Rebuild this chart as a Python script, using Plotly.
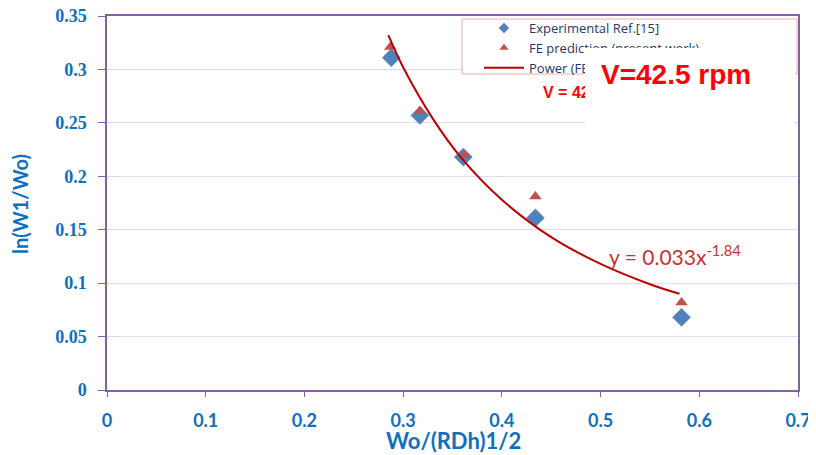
import plotly.graph_objects as go

# Data
exp_x = [0.288, 0.317, 0.361, 0.434, 0.582]
exp_y = [0.311, 0.257, 0.218, 0.161, 0.068]

fe_x = [0.287, 0.317, 0.362, 0.434, 0.582]
fe_y = [0.321, 0.261, 0.220, 0.181, 0.082]

# Power trendline (y = 0.033x^-1.84)
fit_x = [0.285, 0.30, 0.33, 0.36, 0.40, 0.45, 0.50, 0.55, 0.58]
fit_y = [0.332, 0.302, 0.254, 0.216, 0.178, 0.143, 0.118, 0.099, 0.090]

x_ticks = [0, 0.1, 0.2, 0.3, 0.4, 0.5, 0.6, 0.7]
x_tick_text = ["0", "0.1", "0.2", "0.3", "0.4", "0.5", "0.6", "0.7"]
y_ticks = [0, 0.05, 0.1, 0.15, 0.2, 0.25, 0.3, 0.35]
y_tick_text = ["0", "0.05", "0.1", "0.15", "0.2", "0.25", "0.3", "0.35"]

names = ["Experimental Ref.[15]", "FE prediction (present work)",
         "Power (FE prediction (present work))"]

PURPLE = "#8064A2"
GRID = "#E4DAF0"
LABEL = "#0E70BE"
BLUE = "#4F81BD"
RED = "#C0504D"
FIT = "#C00000"

fig = go.Figure()
fig.add_trace(go.Scatter(
    x=exp_x, y=exp_y, mode="markers", name=names[0], showlegend=False,
    marker=dict(symbol="diamond", size=14, color=BLUE,
                line=dict(color="#6A96CC", width=0.5))))
fig.add_trace(go.Scatter(
    x=fe_x, y=fe_y, mode="markers", name=names[1], showlegend=False,
    marker=dict(symbol="triangle-up", size=11, color=RED)))
fig.add_trace(go.Scatter(
    x=fit_x, y=fit_y, mode="lines", name=names[2], showlegend=False,
    line=dict(color=FIT, width=2, shape="spline")))

# legend entries (small symbols as in the reference legend)
fig.add_trace(go.Scatter(x=[None], y=[None], mode="markers", name=names[0],
                         marker=dict(symbol="diamond", size=8, color=BLUE)))
fig.add_trace(go.Scatter(x=[None], y=[None], mode="markers", name=names[1],
                         marker=dict(symbol="triangle-up", size=8, color=RED)))
fig.add_trace(go.Scatter(x=[None], y=[None], mode="lines", name=names[2],
                         line=dict(color=FIT, width=2)))

# page body has an 8px margin
OFF = 8
W, H = 816 - OFF, 455 - OFF
L, T = 107 - OFF, 16 - OFF
R = W - (798 - OFF)
B = H - (390 - OFF)
pw, ph = W - L - R, H - T - B


def px(xr):
    return (xr - OFF - L) / pw


def py(yr):
    return (H - B - (yr - OFF)) / ph


fig.update_layout(
    width=W, height=H,
    margin=dict(l=L, r=R, t=T, b=B, autoexpand=False),
    paper_bgcolor="white", plot_bgcolor="white",
    showlegend=True,
    legend=dict(x=px(479), y=py(13), xanchor="left", yanchor="top",
                bgcolor="rgba(0,0,0,0)", borderwidth=0,
                font=dict(family="Open Sans", size=13, color="#1F3864"),
                itemwidth=40, tracegroupgap=0),
    xaxis=dict(range=[0, 0.7], tickvals=x_ticks, ticktext=x_tick_text,
               showgrid=False, zeroline=False,
               showline=True, linecolor=PURPLE, linewidth=1.5, mirror=True,
               ticks="outside", ticklen=5, tickcolor=PURPLE,
               ticklabelstandoff=9, ticklabeloverflow="allow",
               tickfont=dict(family="Lato", size=18, color=LABEL, weight="bold")),
    yaxis=dict(range=[0, 0.35], tickvals=y_ticks, ticktext=y_tick_text,
               showgrid=True, gridcolor=GRID, gridwidth=1.2, zeroline=False,
               showline=True, linecolor=PURPLE, linewidth=1.5, mirror=True,
               ticks="outside", ticklen=7, tickcolor=PURPLE,
               ticklabelstandoff=8, ticklabeloverflow="allow",
               tickfont=dict(family="Liberation Serif", size=18, color=LABEL, weight="bold")),
    shapes=[dict(type="rect", xref="paper", yref="paper",
                 x0=px(462), x1=px(797), y0=py(74), y1=py(19),
                 fillcolor="white", line=dict(color="#F4AAAA", width=1),
                 layer="above")],
)

annotations = [
    # axis titles
    dict(text="Wo/(RDh)1/2", x=px(454), y=py(440), xref="paper", yref="paper",
         showarrow=False, xanchor="center", yanchor="middle",
         font=dict(family="Lato", size=22, color=LABEL, weight="bold")),
    dict(text="ln(W1/Wo)", x=px(20), y=py(204), xref="paper", yref="paper",
         showarrow=False, xanchor="center", yanchor="middle", textangle=-90,
         font=dict(family="Lato", size=20, color=LABEL, weight="bold")),
    # trendline equation
    dict(text="y = 0.033x<sup>-1.84</sup>", x=px(607), y=py(255), xref="paper", yref="paper",
         showarrow=False, xanchor="left", yanchor="middle",
         font=dict(family="Lato", size=21, color="#C8322E")),
    # partially hidden label
    dict(text="V = 42.5 rpm", x=px(541), y=py(92), xref="paper", yref="paper",
         showarrow=False, xanchor="left", yanchor="middle",
         font=dict(family="Liberation Sans", size=16, color="#FF0000", weight="bold")),
    # white covering box
    dict(text=" ", x=px(585), y=py(48), xref="paper", yref="paper",
         showarrow=False, xanchor="left", yanchor="top", width=210, height=75,
         bgcolor="white", borderpad=0, borderwidth=0),
    dict(text="V=42.5 rpm", x=px(676), y=py(75), xref="paper", yref="paper",
         showarrow=False, xanchor="center", yanchor="middle",
         font=dict(family="Liberation Sans", size=28, color="#FF0000", weight="bold")),
]
fig.update_layout(annotations=annotations)

fig.write_html("out.html")
